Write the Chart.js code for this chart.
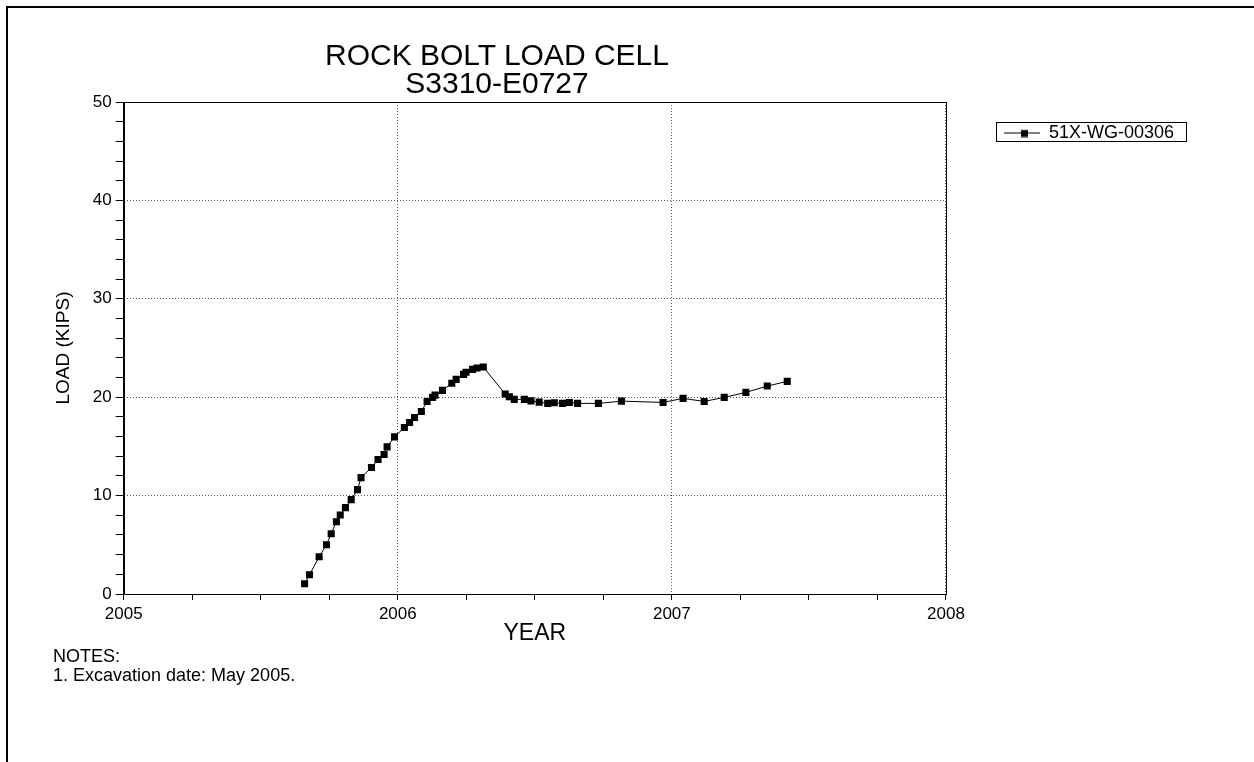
<!DOCTYPE html>
<html>
<head>
<meta charset="utf-8">
<title>Rock Bolt Load Cell S3310-E0727</title>
<script src="https://cdn.jsdelivr.net/npm/chart.js@4.4.1/dist/chart.umd.min.js"></script>
<style>
  html, body { margin: 0; padding: 0; background: #fff; overflow: hidden; }
  body { width: 1254px; height: 762px; position: relative; font-family: "Liberation Sans", Arial, sans-serif; color: #000; }
  #frame { position: absolute; left: 6px; top: 6px; width: 1300px; height: 800px; border: 2px solid #000; box-sizing: border-box; }
  #chart-wrap { position: absolute; left: 0; top: 0; width: 1254px; height: 762px; }
  #title { position: absolute; left: 0; top: 41px; width: 994px; text-align: center; font-size: 30px; line-height: 28px; }
  #notes { position: absolute; left: 53px; top: 647px; font-size: 18px; line-height: 19px; }
</style>
</head>
<body>
<div id="frame"></div>
<div id="chart-wrap"><canvas id="loadCellChart"></canvas></div>
<div id="title">ROCK BOLT LOAD CELL<br>S3310-E0727</div>
<div id="notes">NOTES:<br>1. Excavation date: May 2005.</div>

<script>
// ── Data (decimal year / load in kips) ────────────────────────────────────────
const seriesName = '51X-WG-00306';
const readYears = [
  2005.660, 2005.678, 2005.713, 2005.740, 2005.757, 2005.776, 2005.790, 2005.809,
  2005.830, 2005.853, 2005.866, 2005.904, 2005.928, 2005.950, 2005.961, 2005.988,
  2006.024, 2006.043, 2006.061, 2006.086, 2006.107, 2006.127, 2006.136, 2006.163,
  2006.197, 2006.213, 2006.240, 2006.249, 2006.273, 2006.289, 2006.312, 2006.392,
  2006.407, 2006.425, 2006.462, 2006.486, 2006.516, 2006.547, 2006.571, 2006.601,
  2006.626, 2006.656, 2006.732, 2006.816, 2006.968, 2007.041, 2007.118, 2007.191,
  2007.270, 2007.348, 2007.421
];
const loadKips = [
  1.04, 1.96, 3.79, 5.01, 6.13, 7.35, 8.02, 8.78,
  9.59, 10.61, 11.83, 12.85, 13.67, 14.18, 14.95, 15.97,
  16.92, 17.43, 17.94, 18.55, 19.57, 19.98, 20.21, 20.69,
  21.41, 21.81, 22.32, 22.53, 22.83, 22.96, 23.07, 20.32,
  20.04, 19.78, 19.78, 19.63, 19.50, 19.37, 19.43, 19.37,
  19.47, 19.37, 19.37, 19.60, 19.47, 19.88, 19.57, 19.98,
  20.49, 21.13, 21.61
];
const yearLabels = [2005, 2006, 2007, 2008];
const loadLabels = [0, 10, 20, 30, 40, 50];

const FONT = '"Liberation Sans", Arial, sans-serif';
Chart.defaults.font.family = FONT;
Chart.defaults.color = '#000';

// ── Legend symbol: line with a square marker ──────────────────────────────────
function legendMarker() {
  const c = document.createElement('canvas');
  c.width = 72; c.height = 9;
  const g = c.getContext('2d');
  g.strokeStyle = '#000'; g.lineWidth = 1;
  g.beginPath(); g.moveTo(36, 4.5); g.lineTo(72, 4.5); g.stroke();
  g.fillStyle = '#000'; g.fillRect(53, 1.5, 7, 7);
  return c;
}

// ── Box round the plot area ───────────────────────────────────────────────────
const plotFrame = {
  id: 'plotFrame',
  beforeDatasetsDraw(chart) {
    const { ctx, chartArea: a } = chart;
    const l = Math.round(a.left) + 0.5, t = Math.round(a.top) + 0.5;
    const r = Math.round(a.right) + 0.5, b = Math.round(a.bottom) + 0.5;
    ctx.save();
    ctx.strokeStyle = '#000'; ctx.lineWidth = 1;
    ctx.strokeRect(l, t, r - l, b - t);
    ctx.restore();
  }
};

// ── Box round the legend entry ────────────────────────────────────────────────
const legendFrame = {
  id: 'legendFrame',
  afterDraw(chart) {
    const hb = chart.legend && chart.legend.legendHitBoxes[0];
    if (!hb) return;
    const { ctx } = chart;
    const l = Math.round(hb.left + 28) + 0.5;
    const t = Math.round(hb.top - 2) + 0.5;
    const w = Math.round(hb.width - 28 + 12);
    ctx.save();
    ctx.strokeStyle = '#000'; ctx.lineWidth = 1;
    ctx.strokeRect(l, t, w, 19);
    ctx.restore();
  }
};

const gridColor = labels => c => (c.tick && labels.includes(c.tick.value)) ? '#555' : 'rgba(0,0,0,0)';

new Chart(document.getElementById('loadCellChart'), {
  type: 'line',
  data: {
    datasets: [{
      label: seriesName,
      data: readYears.map((x, i) => ({ x, y: loadKips[i] })),
      borderColor: '#000',
      borderWidth: 1,
      backgroundColor: '#000',
      pointStyle: 'rect',
      pointRadius: 5,
      pointBorderWidth: 0,
      pointBackgroundColor: '#000',
      tension: 0,
      fill: false
    }]
  },
  options: {
    responsive: true,
    maintainAspectRatio: false,
    animation: false,
    events: [],
    layout: { padding: { left: 48, top: 102, right: 70, bottom: 115 } },
    plugins: {
      title: { display: false },
      tooltip: { enabled: false },
      legend: {
        position: 'right',
        align: 'start',
        fullSize: false,
        labels: {
          usePointStyle: true,
          pointStyle: legendMarker(),
          pointStyleWidth: 72,
          padding: 22,
          color: '#000',
          font: { size: 18 }
        }
      }
    },
    scales: {
      x: {
        type: 'linear',
        min: 2005,
        max: 2008,
        ticks: {
          stepSize: 0.25,
          autoSkip: false,
          maxRotation: 0,
          padding: 4,
          color: '#000',
          font: { size: 17 },
          callback: v => yearLabels.includes(v) ? String(v) : ''
        },
        grid: { color: gridColor(yearLabels), tickColor: '#000', tickLength: 6, lineWidth: 1 },
        border: { color: '#000', width: 1, dash: [1, 2] },
        title: { display: true, text: 'YEAR', color: '#000', font: { size: 23 }, padding: { top: -9, bottom: 0 } }
      },
      y: {
        min: 0,
        max: 50,
        ticks: {
          stepSize: 2,
          autoSkip: false,
          padding: 4,
          color: '#000',
          font: { size: 17 },
          callback: v => loadLabels.includes(v) ? String(v) : ''
        },
        grid: { color: gridColor(loadLabels), tickColor: '#000', tickLength: 8, lineWidth: 1 },
        border: { color: '#000', width: 1, dash: [1, 2] },
        title: { display: true, text: 'LOAD (KIPS)', color: '#000', font: { size: 19 }, padding: { top: 4, bottom: 14 } }
      }
    }
  },
  plugins: [plotFrame, legendFrame]
});
</script>
</body>
</html>
